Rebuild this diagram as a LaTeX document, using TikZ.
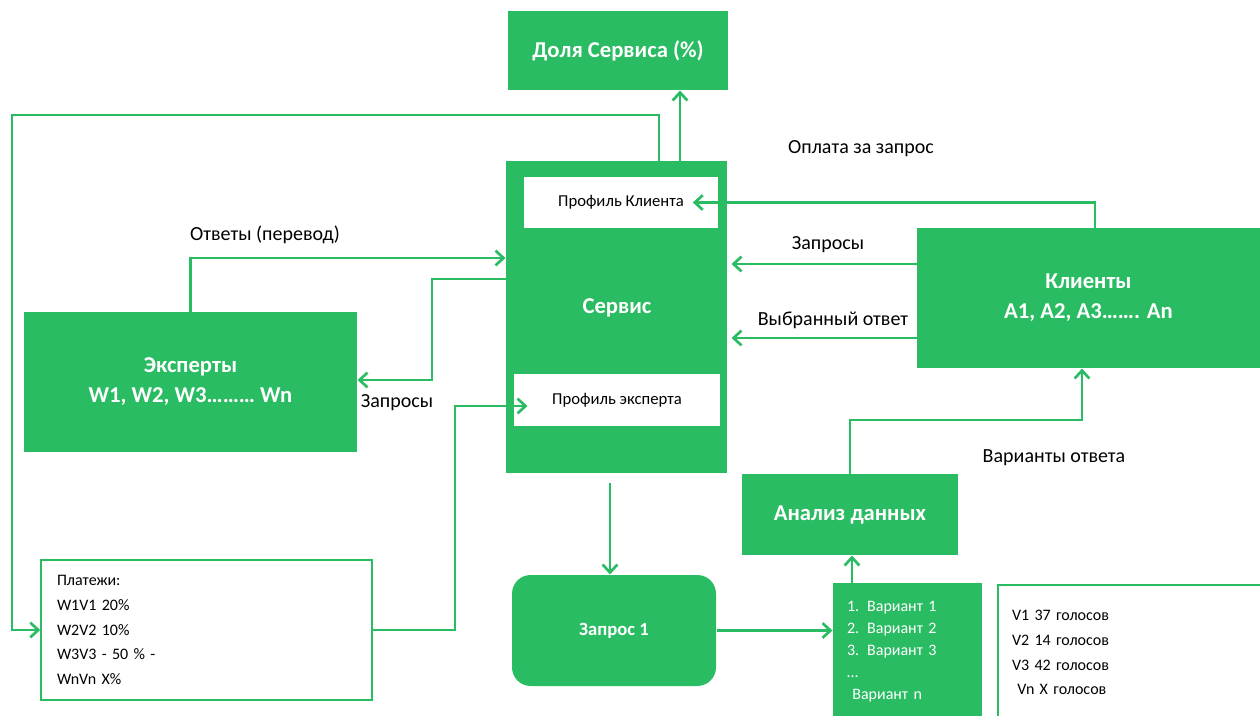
\documentclass[tikz,border=0pt]{standalone}
\usepackage{fontspec}
\setmainfont{Carlito}
\usetikzlibrary{arrows.meta}

\definecolor{grn}{RGB}{41,188,98}

\tikzset{every picture/.style={line width=0.75pt}}
\tikzset{
  gbox/.style={fill=grn, text=white, inner sep=0pt, align=center,
    font=\bfseries\fontsize{17}{22.5}\selectfont},
  wbox/.style={fill=white, inner sep=0pt, font=\fontsize{12.5}{14}\selectfont},
  obox/.style={draw=grn, line width=1.1pt, fill=white, inner sep=0pt, align=left,
    font=\fontsize{12}{18.6}\selectfont},
  lbl/.style={inner sep=1pt, font=\fontsize{15}{18}\selectfont},
  lnk/.style={draw=grn, line width=1.6pt, -{Straight Barb[length=6pt,width=11pt,line width=2pt]}}
}

\begin{document}
\begin{tikzpicture}[x=0.75pt,y=0.75pt,yscale=-1,xscale=1]
	\useasboundingbox (0,0) rectangle (1260,715);

	%Shape: Rectangle [Доля]
	\node[gbox, minimum width=165pt, minimum height=59.25pt] (dolya) at (618,50.5) {Доля Сервиса (\%)};
	%Shape: Rectangle [Сервис]
	\node[gbox, minimum width=165.75pt, minimum height=234pt] (srv) at (616.5,317) {};
	\node[gbox, fill=none] (srvT) at (617,308) {Сервис};
	\node[wbox, minimum width=145.5pt, minimum height=38.25pt] (profK) at (621,202.5) {Профиль Клиента};
	\node[wbox, minimum width=154.5pt, minimum height=39pt] (profE) at (617,400) {Профиль эксперта};
	%Shape: Rectangle [Эксперты]
	\node[gbox, minimum width=249.75pt, minimum height=105pt] (exp) at (190.5,382) {Эксперты\\W1, W2, W3……… Wn};
	%Shape: Rectangle [Клиенты]
	\node[gbox, minimum width=257.25pt, minimum height=105pt] (cli) at (1088.5,298) {Клиенты\\A1, A2, A3……. An};
	%Shape: Rectangle [Анализ]
	\node[gbox, minimum width=162pt, minimum height=60.75pt] (anal) at (850,514.5) {Анализ данных};
	%Shape: Rounded Rect [Запрос 1]
	\node[gbox, rounded corners=14pt, minimum width=153pt, minimum height=83.25pt,
	  font=\bfseries\fontsize{14}{17}\selectfont] (zap) at (614,630.5) {Запрос 1};
	%Shape: Rectangle [Варианты]
	\node[gbox, align=left, minimum width=111.75pt, minimum height=103.5pt, text width=90.75pt,
	  font=\fontsize{12}{16.5}\selectfont] (var) at (907.5,652) {1. Вариант 1\\2. Вариант 2\\3. Вариант 3\\…\\\ Вариант n};
	%Shape: Rectangle [Голоса]
	\node[obox, minimum width=198pt, minimum height=101.25pt, text width=177pt] (votes) at (1130,652.5)
	  {V1 37 голосов\\V2 14 голосов\\V3 42 голосов\\\ Vn X голосов};
	%Shape: Rectangle [Платежи]
	\node[obox, minimum width=248.25pt, minimum height=105pt, text width=224.25pt] (plat) at (206.5,630)
	  {Платежи:\\W1V1 20\%\\W2V2 10\%\\W3V3 - 50 \% -\\WnVn X\%};

	% Text Node
	\node[lbl] (lblPay) at (861,149) {Оплата за запрос};
	% Text Node
	\node[lbl] (lblReqC) at (828,245) {Запросы};
	% Text Node
	\node[lbl] (lblChosen) at (833,320) {Выбранный ответ};
	% Text Node
	\node[lbl] (lblAns) at (265,235) {Ответы (перевод)};
	% Text Node
	\node[lbl] (lblReqE) at (397,403) {Запросы};
	% Text Node
	\node[lbl] (lblVar) at (1054,458) {Варианты ответа};

	%Straight Lines
	\draw[lnk] (srv.north -| 680,0) -- (dolya.south -| 680,0);
	\draw[lnk] (srv.north -| 659,0) |- (12,115) |- (plat.west);
	\draw[lnk, shorten >=-0.5pt] (cli.north -| 1095,0) |- ([xshift=-18.75pt]profK.east);
	\draw[lnk] (cli.west |- 0,264) -- ([xshift=3pt]srv.east |- 0,264);
	\draw[lnk] (cli.west |- 0,338) -- ([xshift=3pt]srv.east |- 0,338);
	\draw[lnk] (exp.north) |- (srv.west |- 0,258);
	\draw[lnk] (srv.west |- 0,279) -| (432,380) -- (exp.east |- 0,380);
	\draw[lnk, shorten >=-10.5pt] (plat.east) -| (455,406) -- (profE.west |- 0,406);
	\draw[lnk, shorten <=6.75pt] (srv.south -| 610,0) -- (zap.north -| 610,0);
	\draw[lnk, line width=2.6pt] (zap.east) -- (var.west |- zap.east);
	\draw[lnk] (var.north -| 852,0) -- (anal.south -| 852,0);
	\draw[lnk] (anal.north) |- (1082,420) -- (cli.south -| 1082,0);

\end{tikzpicture}
\end{document}
